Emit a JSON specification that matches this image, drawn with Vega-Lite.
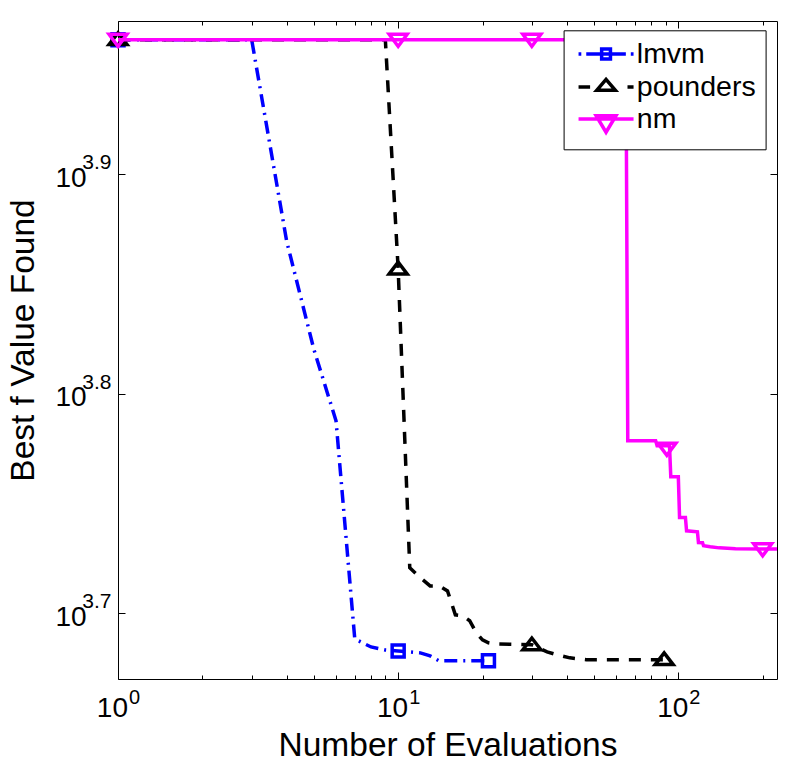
{
  "$schema": "https://vega.github.io/schema/vega-lite/v6.json",
  "width": 659,
  "height": 658,
  "autosize": "none",
  "padding": {"left": 118, "top": 21, "right": 12, "bottom": 89},
  "config": {
    "font": "Liberation Sans",
    "view": {"stroke": null},
    "axis": {"domainColor": "black", "tickColor": "black", "labelColor": "black", "titleColor": "black", "domainWidth": 1, "tickWidth": 1, "grid": false}
  },
  "datasets": {
    "curves": [
      {"alg": "lmvm", "x": 1, "y": 9150}, {"alg": "lmvm", "x": 3, "y": 9150}, {"alg": "lmvm", "x": 4, "y": 7406},
      {"alg": "lmvm", "x": 5, "y": 6613}, {"alg": "lmvm", "x": 6, "y": 6135}, {"alg": "lmvm", "x": 7, "y": 4880},
      {"alg": "lmvm", "x": 8, "y": 4839}, {"alg": "lmvm", "x": 9, "y": 4824}, {"alg": "lmvm", "x": 10, "y": 4819},
      {"alg": "lmvm", "x": 11, "y": 4814}, {"alg": "lmvm", "x": 12, "y": 4809}, {"alg": "lmvm", "x": 13, "y": 4794},
      {"alg": "lmvm", "x": 14, "y": 4769}, {"alg": "lmvm", "x": 21, "y": 4769},
      {"alg": "pounders", "x": 1, "y": 9150}, {"alg": "pounders", "x": 9, "y": 9150}, {"alg": "pounders", "x": 10, "y": 7194},
      {"alg": "pounders", "x": 11, "y": 5258}, {"alg": "pounders", "x": 12, "y": 5203}, {"alg": "pounders", "x": 13, "y": 5159},
      {"alg": "pounders", "x": 14, "y": 5159}, {"alg": "pounders", "x": 15, "y": 5132}, {"alg": "pounders", "x": 16, "y": 5005},
      {"alg": "pounders", "x": 17, "y": 5000}, {"alg": "pounders", "x": 18, "y": 4974}, {"alg": "pounders", "x": 19, "y": 4911},
      {"alg": "pounders", "x": 20, "y": 4875}, {"alg": "pounders", "x": 21, "y": 4860}, {"alg": "pounders", "x": 22, "y": 4855},
      {"alg": "pounders", "x": 30, "y": 4850}, {"alg": "pounders", "x": 34, "y": 4814}, {"alg": "pounders", "x": 37, "y": 4799},
      {"alg": "pounders", "x": 41, "y": 4784}, {"alg": "pounders", "x": 47, "y": 4775}, {"alg": "pounders", "x": 89, "y": 4775},
      {"alg": "nm", "x": 1, "y": 9150}, {"alg": "nm", "x": 65, "y": 9150}, {"alg": "nm", "x": 66, "y": 6008},
      {"alg": "nm", "x": 83, "y": 6008}, {"alg": "nm", "x": 84, "y": 5976}, {"alg": "nm", "x": 93, "y": 5976},
      {"alg": "nm", "x": 94, "y": 5785}, {"alg": "nm", "x": 100, "y": 5785}, {"alg": "nm", "x": 101, "y": 5543},
      {"alg": "nm", "x": 106, "y": 5543}, {"alg": "nm", "x": 107, "y": 5466}, {"alg": "nm", "x": 117, "y": 5460},
      {"alg": "nm", "x": 118, "y": 5399}, {"alg": "nm", "x": 122, "y": 5398}, {"alg": "nm", "x": 123, "y": 5381},
      {"alg": "nm", "x": 130, "y": 5375}, {"alg": "nm", "x": 140, "y": 5369}, {"alg": "nm", "x": 160, "y": 5364},
      {"alg": "nm", "x": 225, "y": 5362}
    ],
    "markers": [
      {"alg": "lmvm", "x": 1, "y": 9150}, {"alg": "lmvm", "x": 10, "y": 4819}, {"alg": "lmvm", "x": 21, "y": 4769},
      {"alg": "pounders", "x": 1, "y": 9150}, {"alg": "pounders", "x": 10, "y": 7194}, {"alg": "pounders", "x": 30, "y": 4850},
      {"alg": "pounders", "x": 89, "y": 4775},
      {"alg": "nm", "x": 1, "y": 9150}, {"alg": "nm", "x": 10, "y": 9150}, {"alg": "nm", "x": 30, "y": 9150},
      {"alg": "nm", "x": 91, "y": 5958}, {"alg": "nm", "x": 200, "y": 5362}
    ],
    "legend": [{"alg": "lmvm"}, {"alg": "pounders"}, {"alg": "nm"}],
    "ysup": [{"v": 5011.872336, "s": "3.7"}, {"v": 6309.573445, "s": "3.8"}, {"v": 7943.282347, "s": "3.9"}],
    "xsup": [{"v": 1, "s": "0"}, {"v": 10, "s": "1"}, {"v": 100, "s": "2"}]
  },
  "resolve": {"axis": {"x": "independent", "y": "independent"}},
  "layer": [
    {
      "data": {"name": "curves"},
      "transform": [{"filter": "datum.alg === 'lmvm'"}],
      "mark": {"type": "line", "color": "#0000ff", "strokeWidth": 3.5, "strokeDash": [13, 6, 2, 6]},
      "encoding": {
        "x": {
          "field": "x", "type": "quantitative",
          "scale": {"type": "log", "domain": [1, 225], "nice": false},
          "axis": {
            "orient": "bottom",
            "values": [1, 2, 3, 4, 5, 6, 7, 8, 9, 10, 20, 30, 40, 50, 60, 70, 80, 90, 100, 200],
            "labelExpr": "indexof([1, 10, 100], datum.value) >= 0 ? '10' : ''",
            "labelAlign": "right", "labelOffset": 9.5, "labelBaseline": "alphabetic", "labelPadding": 44,
            "labelFontSize": 28, "labelFlush": false, "labelOverlap": false,
            "tickSize": {"condition": {"test": "indexof([1, 10, 100], datum.value) >= 0", "value": -7}, "value": -4},
            "title": "Number of Evaluations", "titleFontSize": 33.5, "titleFontWeight": "normal",
            "titleBaseline": "alphabetic", "titleY": 76.5
          }
        },
        "y": {
          "field": "y", "type": "quantitative",
          "scale": {"type": "log", "domain": [4679, 9331], "nice": false},
          "axis": {
            "orient": "left",
            "values": [5011.872336, 6309.573445, 7943.282347],
            "labelExpr": "'10'",
            "labelAlign": "right", "labelBaseline": "alphabetic", "labelOffset": 11.7, "labelPadding": 38.8,
            "labelFontSize": 28, "labelOverlap": false, "tickSize": -7,
            "title": "Best f Value Found", "titleFontSize": 33.5, "titleFontWeight": "normal",
            "titleAngle": 270, "titleBaseline": "alphabetic", "titleAlign": "center", "titleX": -84.7, "titleY": 319
          }
        }
      }
    },
    {
      "data": {"name": "markers"},
      "transform": [{"filter": "datum.alg === 'lmvm'"}],
      "mark": {"type": "point", "shape": "square", "size": 144, "filled": false, "color": "#0000ff", "strokeWidth": 3.5, "opacity": 1},
      "encoding": {
        "x": {
          "field": "x", "type": "quantitative",
          "axis": {
            "orient": "top", "labels": false, "title": null,
            "values": [1, 2, 3, 4, 5, 6, 7, 8, 9, 10, 20, 30, 40, 50, 60, 70, 80, 90, 100, 200],
            "tickSize": {"condition": {"test": "indexof([1, 10, 100], datum.value) >= 0", "value": -7}, "value": -4}
          }
        },
        "y": {
          "field": "y", "type": "quantitative",
          "axis": {"orient": "right", "labels": false, "title": null, "values": [5011.872336, 6309.573445, 7943.282347], "tickSize": -7}
        }
      }
    },
    {
      "data": {"name": "curves"},
      "transform": [{"filter": "datum.alg === 'pounders'"}],
      "mark": {"type": "line", "color": "#000000", "strokeWidth": 3.5, "strokeDash": [12, 10]},
      "encoding": {
        "x": {"field": "x", "type": "quantitative", "axis": null},
        "y": {"field": "y", "type": "quantitative", "axis": null}
      }
    },
    {
      "data": {"name": "markers"},
      "transform": [{"filter": "datum.alg === 'pounders'"}],
      "mark": {"type": "point", "shape": "M-1,0.55L0,-0.75L1,0.55Z", "size": 324, "filled": false, "color": "#000000", "strokeWidth": 3.5, "opacity": 1},
      "encoding": {
        "x": {"field": "x", "type": "quantitative", "axis": null},
        "y": {"field": "y", "type": "quantitative", "axis": null}
      }
    },
    {
      "data": {"name": "curves"},
      "transform": [{"filter": "datum.alg === 'nm'"}],
      "mark": {"type": "line", "color": "#ff00ff", "strokeWidth": 3.5},
      "encoding": {
        "x": {"field": "x", "type": "quantitative", "axis": null},
        "y": {"field": "y", "type": "quantitative", "axis": null}
      }
    },
    {
      "data": {"name": "markers"},
      "transform": [{"filter": "datum.alg === 'nm'"}],
      "mark": {"type": "point", "shape": "M-1,-0.6L1,-0.6L0,0.75Z", "size": 324, "filled": false, "color": "#ff00ff", "strokeWidth": 3.5, "opacity": 1},
      "encoding": {
        "x": {"field": "x", "type": "quantitative", "axis": null},
        "y": {"field": "y", "type": "quantitative", "axis": null}
      }
    },
    {
      "data": {"name": "ysup"},
      "mark": {"type": "text", "align": "right", "baseline": "alphabetic", "dx": -6.6, "dy": -5, "fontSize": 21, "color": "black"},
      "encoding": {
        "x": {"datum": 1, "type": "quantitative", "axis": null},
        "y": {"field": "v", "type": "quantitative", "axis": null},
        "text": {"field": "s"}
      }
    },
    {
      "data": {"name": "xsup"},
      "mark": {"type": "text", "align": "left", "baseline": "alphabetic", "dx": 11, "dy": 25, "fontSize": 20, "color": "black"},
      "encoding": {
        "x": {"field": "v", "type": "quantitative", "axis": null},
        "y": {"datum": 4679, "type": "quantitative", "axis": null},
        "text": {"field": "s"}
      }
    },
    {
      "data": {"name": "legend"},
      "mark": {"type": "point", "filled": false, "opacity": 0, "strokeWidth": 3.5},
      "encoding": {
        "x": {"datum": 1, "type": "quantitative", "axis": null},
        "y": {"datum": 9150, "type": "quantitative", "axis": null},
        "color": {
          "field": "alg", "type": "nominal",
          "scale": {"domain": ["lmvm", "pounders", "nm"], "range": ["#0000ff", "#000000", "#ff00ff"]},
          "legend": {
            "title": null, "orient": "none", "legendX": 445.6, "legendY": 9.3,
            "strokeColor": "black", "fillColor": "white", "padding": 9.5, "rowPadding": 3,
            "labelFontSize": 28.5, "labelColor": "black", "labelOffset": 0,
            "symbolSize": 484, "symbolStrokeWidth": 3.5, "symbolOffset": 35.2, "symbolOpacity": 1
          }
        },
        "shape": {
          "field": "alg", "type": "nominal",
          "scale": {
            "domain": ["lmvm", "pounders", "nm"],
            "range": [
              "M-4,0H-3.75M-3.3,0H-1.9M-1.9,-0.45H-1.1V0.45H-1.9ZM-1.9,0H-1.1M-1.1,0H0.3M0.75,0H1",
              "M-4,0H-2.95M-2.35,0.3L-1.5,-0.7L-0.65,0.3ZM0.45,0H1",
              "M-4,0H1M-2.4,-0.3H-0.6L-1.5,1.2Z"
            ]
          },
          "legend": {
            "title": null, "orient": "none", "legendX": 445.6, "legendY": 9.3,
            "strokeColor": "black", "fillColor": "white", "padding": 9.5, "rowPadding": 3,
            "labelFontSize": 28.5, "labelColor": "black", "labelOffset": 0,
            "symbolSize": 484, "symbolStrokeWidth": 3.5, "symbolOffset": 35.2, "symbolOpacity": 1
          }
        }
      }
    }
  ]
}
